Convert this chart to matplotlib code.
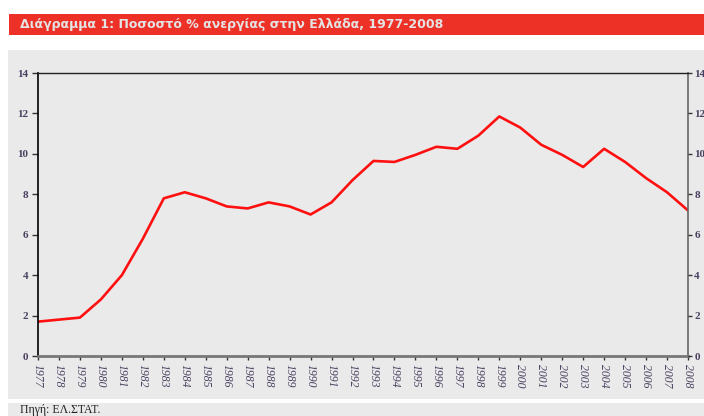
import matplotlib
matplotlib.use("Agg")
import matplotlib.pyplot as plt
from matplotlib.patches import Rectangle

years = list(range(1977, 2009))
unemployment = [1.7, 1.8, 1.9, 2.8, 4.0, 5.8, 7.8, 8.1, 7.8, 7.4, 7.3, 7.6,
                7.4, 7.0, 7.6, 8.7, 9.65, 9.6, 9.95, 10.35, 10.25, 10.9,
                11.85, 11.3, 10.45, 9.95, 9.35, 10.25, 9.6, 8.8, 8.1, 7.2]
yticks = [0, 2, 4, 6, 8, 10, 12, 14]
title = "Διάγραμμα 1: Ποσοστό % ανεργίας στην Ελλάδα, 1977-2008"
source = "Πηγή: ΕΛ.ΣΤΑΤ."

W, H = 704, 416
fig = plt.figure(figsize=(W / 100, H / 100), dpi=100)
fig.patch.set_facecolor("white")

def fx(x): return x / W
def fy(y): return 1 - y / H

# red title bar
fig.patches.append(Rectangle((fx(9), fy(35)), fx(704 - 9), (35 - 14) / H,
                             transform=fig.transFigure, facecolor="#ee3127",
                             edgecolor="none", zorder=-5))
fig.text(fx(20), fy(24.5), title, color="#e4e4e4", fontsize=9,
         fontweight="bold", family="DejaVu Sans", va="center", ha="left")
# gray panel
fig.patches.append(Rectangle((fx(8), fy(399)), fx(704 - 8), (399 - 50) / H,
                             transform=fig.transFigure, facecolor="#eaeaea",
                             edgecolor="none", zorder=-5))
fig.patches.append(Rectangle((fx(8), 0), fx(704 - 8), (416 - 403) / H,
                             transform=fig.transFigure, facecolor="#eaeaea",
                             edgecolor="none", zorder=-5))
fig.text(fx(20), fy(409.5), source, color="#222222", fontsize=8.5,
         family="Liberation Serif", va="center", ha="left")

ax = fig.add_axes([fx(38), fy(356), fx(688 - 38), (356 - 73) / H])
ax.set_zorder(2)
ax.set_facecolor("#eaeaea")
ax.plot(years, unemployment, color="#ff1010", lw=1.9, solid_joinstyle="round")
ax.set_xlim(1977, 2008)
ax.set_ylim(0, 14)
ax.set_yticks(yticks)
ax.set_xticks(years)
lab_color = "#4a4060"
ax.set_yticklabels([str(v) for v in yticks], family="Liberation Serif",
                   fontsize=8, fontweight="bold", color=lab_color)
ax.set_xticklabels([str(y) for y in years], rotation=270, family="Liberation Serif",
                   style="italic", fontsize=8.5, color=lab_color)
ax.spines["left"].set_color("black")
ax.spines["left"].set_linewidth(1.2)
ax.spines["top"].set_color("#222222")
ax.spines["top"].set_linewidth(1.0)
ax.spines["bottom"].set_color("#777777")
ax.spines["bottom"].set_linewidth(2.0)
ax.spines["right"].set_color("#666666")
ax.spines["right"].set_linewidth(1.2)
ax.tick_params(axis="y", direction="out", length=4, width=1, color="#333333", pad=3)
ax.tick_params(axis="x", direction="out", length=3, width=1, color="#333333", pad=3)

ax2 = ax.twinx()
ax2.set_zorder(3)
ax2.patch.set_visible(False)
ax2.set_ylim(0, 14)
ax2.set_yticks(yticks)
ax2.set_yticklabels([str(v) for v in yticks], family="Liberation Serif",
                    fontsize=8, fontweight="bold", color=lab_color)
ax2.tick_params(axis="y", direction="out", length=3, width=1, color="#333333", pad=1.5)
for s in ax2.spines.values():
    s.set_visible(False)

fig.savefig("out.png", dpi=100)
